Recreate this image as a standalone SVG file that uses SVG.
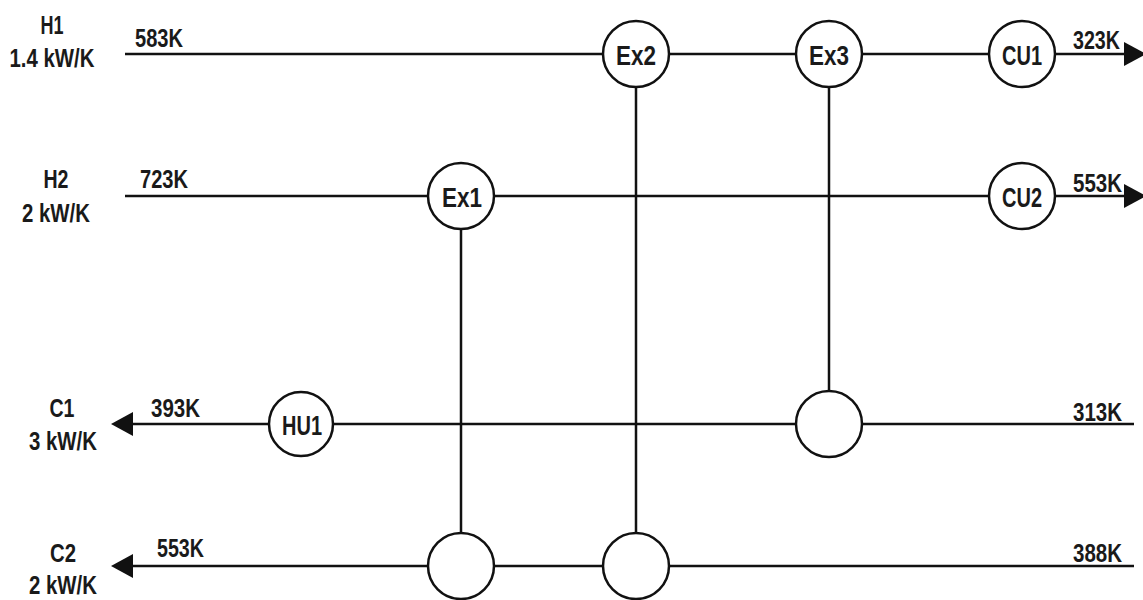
<svg xmlns="http://www.w3.org/2000/svg" width="1143" height="600" viewBox="0 0 1143 600">
  <style>
    .stream { stroke: #111; stroke-width: 2.5; fill: none; }
    .unit { fill: #fff; stroke: #111; stroke-width: 2.5; }
    .lbl { font-family: "Liberation Sans Narrow", "Arial Narrow", "Liberation Sans", sans-serif; font-weight: bold; fill: #1a1a1a; }
    .name { font-size: 25px; text-anchor: middle; }
    .temp { font-size: 25px; }
    .ulbl { font-size: 28px; text-anchor: middle; }
  </style>
  <defs>
    <marker id="arrow" viewBox="0 0 22 24" refX="0" refY="12" markerWidth="22" markerHeight="24" markerUnits="userSpaceOnUse" orient="auto">
      <path d="M0,0 L22,12 L0,24 Z" fill="#111"/>
    </marker>
  </defs>
  <rect width="1143" height="600" fill="#fff"/>

  <!-- stream lines and exchanger links -->
  <g id="connectors">
    <line class="stream" x1="125" y1="54" x2="1124" y2="54" marker-end="url(#arrow)"/>
    <line class="stream" x1="125" y1="196" x2="1124" y2="196" marker-end="url(#arrow)"/>
    <line class="stream" x1="1134" y1="424" x2="133" y2="424" marker-end="url(#arrow)"/>
    <line class="stream" x1="1134" y1="566" x2="133" y2="566" marker-end="url(#arrow)"/>
    <line class="stream" x1="461" y1="196" x2="461" y2="566"/>
    <line class="stream" x1="636" y1="54" x2="636" y2="566"/>
    <line class="stream" x1="829" y1="54" x2="829" y2="424"/>
  </g>

  <!-- stream labels -->
  <g id="stream-H1">
    <text class="lbl name" x="52" y="34" textLength="23" lengthAdjust="spacingAndGlyphs">H1</text>
    <text class="lbl name" x="52" y="67" textLength="85" lengthAdjust="spacingAndGlyphs">1.4 kW/K</text>
    <text class="lbl temp" x="135" y="47" textLength="48" lengthAdjust="spacingAndGlyphs">583K</text>
    <text class="lbl temp" x="1073" y="49" textLength="47" lengthAdjust="spacingAndGlyphs">323K</text>
  </g>
  <g id="stream-H2">
    <text class="lbl name" x="56" y="188" textLength="25" lengthAdjust="spacingAndGlyphs">H2</text>
    <text class="lbl name" x="56" y="222" textLength="68" lengthAdjust="spacingAndGlyphs">2 kW/K</text>
    <text class="lbl temp" x="140" y="188" textLength="48" lengthAdjust="spacingAndGlyphs">723K</text>
    <text class="lbl temp" x="1073" y="192" textLength="49" lengthAdjust="spacingAndGlyphs">553K</text>
  </g>
  <g id="stream-C1">
    <text class="lbl name" x="62" y="417" textLength="25" lengthAdjust="spacingAndGlyphs">C1</text>
    <text class="lbl name" x="63" y="450" textLength="68" lengthAdjust="spacingAndGlyphs">3 kW/K</text>
    <text class="lbl temp" x="151" y="417" textLength="49" lengthAdjust="spacingAndGlyphs">393K</text>
    <text class="lbl temp" x="1073" y="421" textLength="49" lengthAdjust="spacingAndGlyphs">313K</text>
  </g>
  <g id="stream-C2">
    <text class="lbl name" x="63" y="562" textLength="26" lengthAdjust="spacingAndGlyphs">C2</text>
    <text class="lbl name" x="63" y="594" textLength="68" lengthAdjust="spacingAndGlyphs">2 kW/K</text>
    <text class="lbl temp" x="157" y="557" textLength="47" lengthAdjust="spacingAndGlyphs">553K</text>
    <text class="lbl temp" x="1073" y="562" textLength="49" lengthAdjust="spacingAndGlyphs">388K</text>
  </g>

  <!-- units -->
  <g id="Ex1">
    <circle class="unit" cx="461" cy="196" r="33"/>
    <text class="lbl ulbl" x="462" y="207" textLength="40" lengthAdjust="spacingAndGlyphs">Ex1</text>
  </g>
  <g id="Ex2">
    <circle class="unit" cx="636" cy="54" r="33"/>
    <text class="lbl ulbl" x="636" y="65" textLength="40" lengthAdjust="spacingAndGlyphs">Ex2</text>
  </g>
  <g id="Ex3">
    <circle class="unit" cx="829" cy="54" r="33"/>
    <text class="lbl ulbl" x="829" y="65" textLength="40" lengthAdjust="spacingAndGlyphs">Ex3</text>
  </g>
  <g id="CU1">
    <circle class="unit" cx="1022" cy="54" r="33"/>
    <text class="lbl ulbl" x="1022" y="65" textLength="40" lengthAdjust="spacingAndGlyphs">CU1</text>
  </g>
  <g id="CU2">
    <circle class="unit" cx="1022" cy="196" r="33"/>
    <text class="lbl ulbl" x="1022" y="207" textLength="40" lengthAdjust="spacingAndGlyphs">CU2</text>
  </g>
  <g id="HU1">
    <circle class="unit" cx="301" cy="424" r="32"/>
    <text class="lbl ulbl" x="302" y="435" textLength="40" lengthAdjust="spacingAndGlyphs">HU1</text>
  </g>
  <g id="Ex3-cold">
    <circle class="unit" cx="829" cy="424" r="33"/>
  </g>
  <g id="Ex1-cold">
    <circle class="unit" cx="461" cy="566" r="33"/>
  </g>
  <g id="Ex2-cold">
    <circle class="unit" cx="636" cy="566" r="33"/>
  </g>
</svg>
